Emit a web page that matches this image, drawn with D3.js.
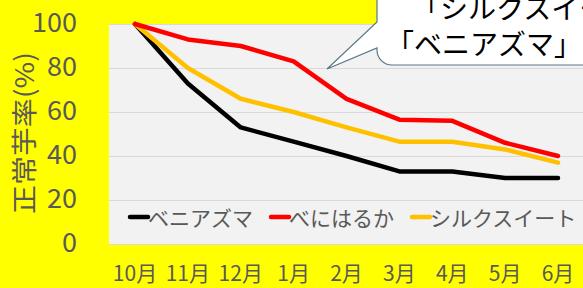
<!DOCTYPE html>
<html><head><meta charset="utf-8">
<script src="https://cdn.jsdelivr.net/npm/d3@7"></script>
<style>
html,body{margin:0;padding:0;background:#ffff00;overflow:hidden}
text{font-family:"Noto Sans CJK JP","Noto Sans",sans-serif}
</style></head><body>
<svg id="c" width="583" height="288"></svg>
<script>
const months = ["10月","11月","12月","1月","2月","3月","4月","5月","6月"];
const beniazuma = [100, 73, 53, 46.5, 40, 33, 33, 30, 30];
const beniharuka = [100, 93, 90, 83, 66, 56.5, 56, 46, 40];
const silksweet = [100, 80, 66, 60, 53, 46.5, 46.5, 43, 37];
const seriesNames = ["ベニアズマ","べにはるか","シルクスイート"];
const seriesColors = ["#000000","#ff0000","#ffc000"];
const yTicks = [0,20,40,60,80,100];
const yTitle = "正常芋率(%)";
const calloutLines = ["「シルクスイート」と","「ベニアズマ」"];

const svg = d3.select("#c");
const W = 583, H = 288;
svg.append("rect").attr("width",W).attr("height",H).attr("fill","#ffff00");

const plot = {left:109, top:24, right:583, bottom:244};
const x = d3.scalePoint().domain(months).range([135, 558]);
const y = d3.scaleLinear().domain([0,100]).range([plot.bottom, plot.top]);

svg.append("rect").attr("x",plot.left).attr("y",plot.top)
  .attr("width",plot.right-plot.left).attr("height",plot.bottom-plot.top)
  .attr("fill","#f2f2f2");

// gridlines
svg.append("g").selectAll("line").data(yTicks).join("line")
  .attr("x1",plot.left).attr("x2",plot.right)
  .attr("y1",d=>y(d)+0.5).attr("y2",d=>y(d)+0.5)
  .attr("stroke","#d9d9d9").attr("stroke-width",1);

// y tick labels
svg.append("g").selectAll("text").data(yTicks).join("text")
  .attr("x",77).attr("y",d=>y(d)-3.5)
  .attr("text-anchor","end").attr("dominant-baseline","central")
  .attr("fill","#595959").attr("font-size",27)
  .text(d=>d);

// x labels
svg.append("g").selectAll("text").data(months).join("text")
  .attr("x",d=>x(d)).attr("y",281)
  .attr("text-anchor","middle")
  .attr("fill","#595959").attr("font-size",21)
  .text(d=>d);

// y title
svg.append("text")
  .attr("transform","translate(22,133) rotate(-90)")
  .attr("text-anchor","middle").attr("dominant-baseline","central")
  .attr("fill","#595959").attr("font-size",26)
  .attr("textLength",162).attr("lengthAdjust","spacingAndGlyphs")
  .text(yTitle);

// lines
const seriesData = [beniazuma, beniharuka, silksweet];
const line = d3.line().x((d,i)=>x(months[i])).y(d=>y(d));
const order = [0,2,1];
order.forEach(k=>{
  svg.append("path").datum(seriesData[k])
    .attr("d",line).attr("fill","none")
    .attr("stroke",seriesColors[k]).attr("stroke-width",4.5)
    .attr("stroke-linejoin","round").attr("stroke-linecap","round");
});

// legend
const legendItems = [
  {name:seriesNames[0], color:seriesColors[0], x0:130},
  {name:seriesNames[1], color:seriesColors[1], x0:271},
  {name:seriesNames[2], color:seriesColors[2], x0:412}
];
const lg = svg.append("g");
legendItems.forEach(it=>{
  lg.append("line").attr("x1",it.x0).attr("x2",it.x0+18)
    .attr("y1",217).attr("y2",217)
    .attr("stroke",it.color).attr("stroke-width",4.5).attr("stroke-linecap","round");
  lg.append("text").attr("x",it.x0+18).attr("y",217)
    .attr("dominant-baseline","central").attr("fill","#595959")
    .attr("font-size",21).text(it.name);
});

// callout
const cp = d3.path();
cp.moveTo(377,-10);
cp.lineTo(377,22);
cp.lineTo(327,69);
cp.lineTo(377,48);
cp.lineTo(377,50);
cp.arcTo(377,65,392,65,15);
cp.lineTo(620,65);
cp.lineTo(620,-10);
cp.closePath();
svg.append("path").attr("d",cp.toString())
  .attr("fill","#ffffff").attr("stroke","#587888").attr("stroke-width",1.2);
svg.append("text").attr("x",412).attr("y",7)
  .attr("dominant-baseline","central").attr("fill","#000")
  .attr("font-size",28).text(calloutLines[0]);
svg.append("text").attr("x",386).attr("y",43)
  .attr("dominant-baseline","central").attr("fill","#000")
  .attr("font-size",28).text(calloutLines[1]);
</script>
</body></html>
